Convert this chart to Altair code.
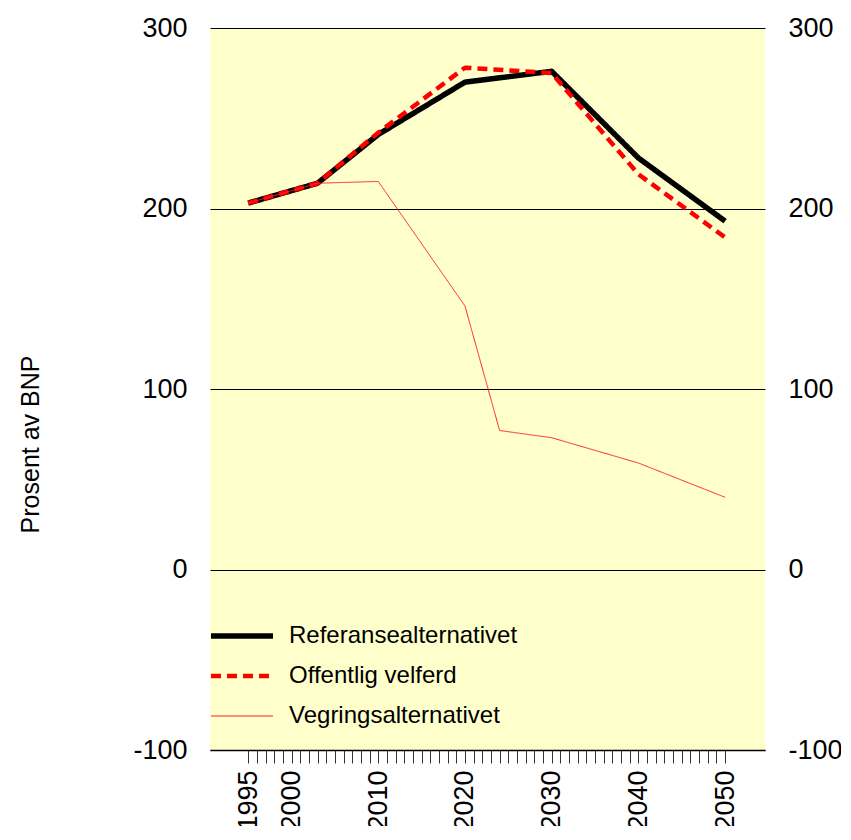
import altair as alt
import pandas as pd

# ---- data ----
series_names = ["Referansealternativet", "Offentlig velferd", "Vegringsalternativet"]

ref_years = [1995, 2003, 2010, 2020, 2030, 2040, 2050]
ref_values = [203, 214, 241, 270, 276, 228, 193]

off_years = [1995, 2003, 2010, 2020, 2030, 2040, 2050]
off_values = [203, 214, 242, 278, 275, 219, 184]

veg_years = [1995, 2003, 2010, 2020, 2024, 2030, 2040, 2050]
veg_values = [203, 214, 215, 146, 77, 73, 59, 40]

tick_years = list(range(1995, 2051))
label_years = [1995, 2000, 2010, 2020, 2030, 2040, 2050]
y_ticks = [-100, 0, 100, 200, 300]

rows = []
for name, ys, vs in [
    (series_names[0], ref_years, ref_values),
    (series_names[1], off_years, off_values),
    (series_names[2], veg_years, veg_values),
]:
    for y, v in zip(ys, vs):
        rows.append({"serie": name, "year": y, "value": v})
df = pd.DataFrame(rows)

FONT = "Liberation Sans"
x_scale = alt.Scale(domain=[1990.6, 2054.6], nice=False, zero=False)
y_scale = alt.Scale(domain=[-100, 300], nice=False, zero=False)

label_expr = (
    "indexof([" + ",".join(str(v) for v in label_years) + "], datum.value) >= 0 ? '' + datum.value : ''"
)

x_axis = alt.Axis(
    title=None,
    values=tick_years,
    labelExpr=label_expr,
    labelAngle=270,
    labelAlign="right",
    labelBaseline="middle",
    labelPadding=7,
    labelOverlap=False,
    labelFlush=False,
    labelFont=FONT,
    labelFontSize=27,
    labelColor="black",
    tickSize=13,
    tickColor="#333333",
    tickWidth=1,
    domain=True,
    domainColor="black",
    domainWidth=1.5,
    grid=False,
)

lines = alt.Chart(df).mark_line(strokeJoin="round", strokeCap="butt").encode(
    x=alt.X("year:Q", scale=x_scale, axis=x_axis),
    y=alt.Y(
        "value:Q",
        scale=y_scale,
        axis=alt.Axis(
            orient="left",
            values=y_ticks,
            labelExpr="'' + datum.value",
            title="Prosent av BNP",
            titleAngle=270,
            titleX=-172,
            titleY=416,
            titleAlign="center",
            titleBaseline="alphabetic",
            titleFont=FONT,
            titleFontSize=25,
            titleFontWeight="normal",
            titleColor="black",
            labelFont=FONT,
            labelFontSize=27,
            labelColor="black",
            labelPadding=23,
            ticks=False,
            domain=False,
            grid=True,
            gridColor="black",
            gridWidth=1.2,
            gridOpacity=1,
        ),
    ),
    color=alt.Color(
        "serie:N",
        scale=alt.Scale(domain=series_names, range=["black", "#FF0000", "#FF2020"]),
        legend=alt.Legend(
            title=None,
            orient="none",
            legendX=-2,
            legendY=598,
            direction="vertical",
            symbolType="stroke",
            symbolSize=3844,
            clipHeight=20,
            rowPadding=16,
            labelOffset=13,
            labelLimit=0,
            labelFont=FONT,
            labelFontSize=24,
            labelColor="black",
            padding=0,
        ),
    ),
    strokeDash=alt.StrokeDash(
        "serie:N",
        scale=alt.Scale(domain=series_names, range=[[1, 0], [10, 6], [1, 0]]),
        legend=None,
    ),
    strokeWidth=alt.StrokeWidth(
        "serie:N",
        scale=alt.Scale(type="ordinal", domain=series_names, range=[5.5, 4.5, 1]),
        legend=None,
    ),
    order=alt.Order("year:Q"),
)

right_axis = alt.Chart(df).mark_line(strokeOpacity=0).encode(
    x=alt.X("year:Q", scale=x_scale, axis=x_axis),
    y=alt.Y(
        "value:Q",
        scale=y_scale,
        axis=alt.Axis(
            orient="right",
            values=y_ticks,
            labelExpr="'' + datum.value",
            title=None,
            labelFont=FONT,
            labelFontSize=27,
            labelColor="black",
            labelPadding=23,
            ticks=False,
            domain=False,
            grid=False,
        ),
    ),
    detail="serie:N",
)

chart = (
    alt.layer(lines, right_axis)
    .resolve_scale(y="independent")
    .properties(
        width=555,
        height=722,
        padding={"left": 202, "top": 20, "right": 76, "bottom": 76},
        autosize=alt.AutoSizeParams(type="none"),
        background="white",
    )
    .configure_view(fill="#FFFFCC", stroke=None)
)

chart.save("out.html", embed_options={"renderer": "svg", "actions": False})
